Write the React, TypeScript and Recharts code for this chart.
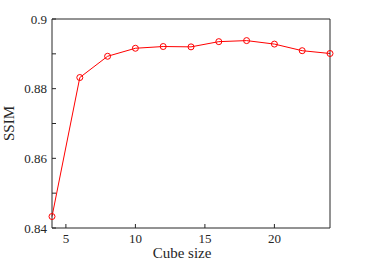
import { LineChart, Line, XAxis, YAxis, Label } from "recharts";

const cubeSizes = [4, 6, 8, 10, 12, 14, 16, 18, 20, 22, 24];
const ssimValues = [0.8433, 0.8832, 0.8893, 0.8916, 0.8921, 0.892, 0.8935, 0.8938, 0.8928, 0.8909, 0.8901];
const xTicks = [5, 10, 15, 20];
const yTicks = [0.84, 0.85, 0.86, 0.87, 0.88, 0.89, 0.9];
const yTickLabels = ["0.84", "", "0.86", "", "0.88", "", "0.9"];

const data = cubeSizes.map((size, i) => ({ size, ssim: ssimValues[i] }));

const ink = "#262626";
const font = "'Liberation Serif', 'Times New Roman', serif";

const yLabel = (v: number) => {
  const i = yTicks.findIndex((t) => Math.abs(t - v) < 1e-9);
  return i >= 0 ? yTickLabels[i] : "";
};

// plain <text> ticks so the serif font is surely used
const XTick = (props: any) => (
  <text
    x={props.x}
    y={props.y}
    dy="0.71em"
    textAnchor="middle"
    style={{ fontFamily: font, fontSize: 13, fill: ink }}
  >
    {props.payload.value}
  </text>
);

const YTick = (props: any) => (
  <text
    x={props.x}
    y={props.y}
    dy="0.355em"
    textAnchor="end"
    style={{ fontFamily: font, fontSize: 13, fill: ink }}
  >
    {yLabel(props.payload.value)}
  </text>
);

export default function App() {
  return (
    <div style={{ position: "absolute", left: 0, top: 0, background: "#fff" }}>
      <LineChart width={365} height={264} data={data} margin={{ top: 0, right: 0, bottom: 0, left: 0 }}>
        <XAxis
          xAxisId="bottom"
          dataKey="size"
          type="number"
          domain={[4, 24]}
          ticks={xTicks}
          interval={0}
          height={36}
          tickSize={-4}
          tickMargin={10}
          stroke={ink}
          tick={<XTick />}
        >
          <Label
            value="Cube size"
            position="insideBottom"
            offset={6}
            dx={-9}
            style={{ fontSize: 15, fill: ink, fontFamily: font }}
          />
        </XAxis>
        <XAxis
          xAxisId="top"
          orientation="top"
          dataKey="size"
          type="number"
          domain={[4, 24]}
          ticks={xTicks}
          interval={0}
          height={19}
          tickSize={-4}
          tick={false}
          stroke={ink}
        />
        <YAxis
          yAxisId="left"
          type="number"
          domain={[0.84, 0.9]}
          ticks={yTicks}
          interval={0}
          width={52}
          tickSize={-4}
          tickMargin={9}
          stroke={ink}
          tick={<YTick />}
        >
          <Label
            value="SSIM"
            angle={-90}
            position="insideLeft"
            offset={12}
            dx={-3}
            style={{ fontSize: 15, fill: ink, fontFamily: font, textAnchor: "middle" }}
          />
        </YAxis>
        <YAxis
          yAxisId="right"
          orientation="right"
          type="number"
          domain={[0.84, 0.9]}
          ticks={yTicks}
          interval={0}
          width={35}
          tickSize={-4}
          tick={false}
          stroke={ink}
        />
        <Line
          xAxisId="bottom"
          yAxisId="left"
          type="linear"
          dataKey="ssim"
          stroke="#ff0000"
          strokeWidth={1}
          dot={{ r: 3, stroke: "#ff0000", strokeWidth: 1, fill: "none" }}
          activeDot={false}
          isAnimationActive={false}
        />
      </LineChart>
    </div>
  );
}
